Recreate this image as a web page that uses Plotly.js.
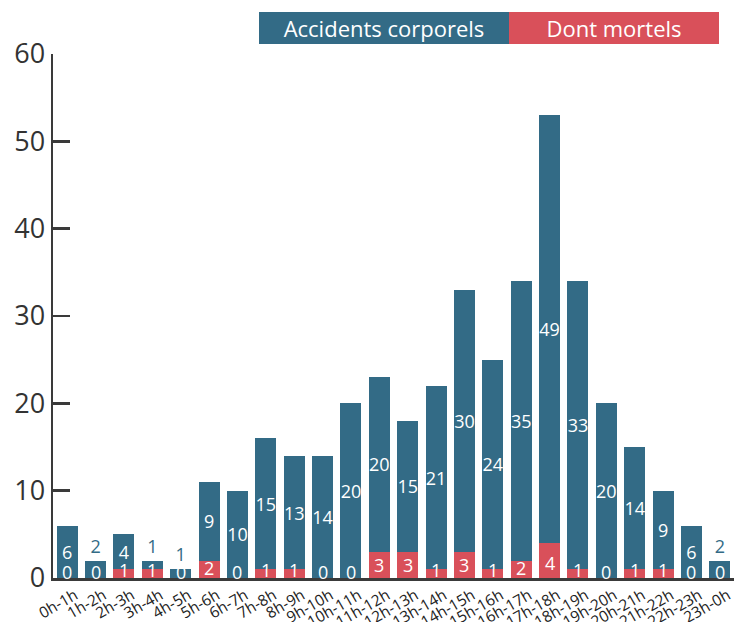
<!DOCTYPE html>
<html>
<head>
<meta charset="utf-8">
<script src="https://cdn.plot.ly/plotly-3.0.1.min.js"></script>
<style>html,body{margin:0;padding:0;background:#fff;}#chart{width:734px;height:622px;}</style>
</head>
<body>
<div id="chart"></div>
<script>
const hours = ["0h-1h","1h-2h","2h-3h","3h-4h","4h-5h","5h-6h","6h-7h","7h-8h","8h-9h","9h-10h","10h-11h","11h-12h","12h-13h","13h-14h","14h-15h","15h-16h","16h-17h","17h-18h","18h-19h","19h-20h","20h-21h","21h-22h","22h-23h","23h-0h"];
const accidents = [6,2,4,1,1,9,10,15,13,14,20,20,15,21,30,24,32,49,33,20,14,9,6,2];
const accidentLabels = ["6","2","4","1","1","9","10","15","13","14","20","20","15","21","30","24","35","49","33","20","14","9","6","2"];
const mortels = [0,0,1,1,0,2,0,1,1,0,0,3,3,1,3,1,2,4,1,0,1,1,0,0];
const legendNames = ["Accidents corporels","Dont mortels"];

const BLUE = "#336b86";
const RED = "#d9505a";
const FONT = "'Open Sans', 'Noto Sans', sans-serif";

const traces = [
  {
    type: "bar", x: hours, y: mortels, name: legendNames[1],
    marker: {color: RED}, hoverinfo: "none"
  },
  {
    type: "bar", x: hours, y: accidents, name: legendNames[0],
    marker: {color: BLUE}, hoverinfo: "none",
    text: accidentLabels,
    textposition: accidents.map(v => v < 3 ? "outside" : "inside"),
    insidetextanchor: "middle",
    constraintext: "none",
    textangle: 0,
    cliponaxis: false,
    insidetextfont: {family: FONT, size: 18, color: "#ffffff"},
    outsidetextfont: {family: FONT, size: 18, color: BLUE}
  }
];

const mortelAnnotations = hours.map((h, i) => ({
  xref: "x", yref: "y", x: h, y: mortels[i] / 4,
  text: String(mortels[i]), showarrow: false,
  xanchor: "center", yanchor: "middle", yshift: 6,
  font: {family: FONT, size: 18, color: "#ffffff"}
}));

const legendAnnotations = [
  {xref: "paper", yref: "paper", x: 0.4861, y: 1.0505, xanchor: "center", yanchor: "middle",
   text: legendNames[0], showarrow: false, bgcolor: BLUE, width: 250, height: 32,
   borderpad: 0, borderwidth: 0, font: {family: FONT, size: 22, color: "#ffffff"}},
  {xref: "paper", yref: "paper", x: 0.8238, y: 1.0505, xanchor: "center", yanchor: "middle",
   text: legendNames[1], showarrow: false, bgcolor: RED, width: 210, height: 32,
   borderpad: 0, borderwidth: 0, font: {family: FONT, size: 22, color: "#ffffff"}}
];

const layout = {
  width: 734, height: 622,
  margin: {l: 53, r: 0, t: 53.5, b: 43.5},
  barmode: "stack",
  bargap: 0.26,
  showlegend: false,
  paper_bgcolor: "#ffffff",
  plot_bgcolor: "#ffffff",
  font: {family: FONT, color: "#333333"},
  xaxis: {
    type: "category", automargin: false,
    showline: true, linecolor: "#3a3a3a", linewidth: 2.5,
    ticks: "", showgrid: false, zeroline: false,
    tickangle: -30,
    ticklabelshift: 8,
    tickfont: {family: FONT, size: 15.5, color: "#222222"}
  },
  yaxis: {
    range: [0, 60], dtick: 10, automargin: false,
    showline: true, linecolor: "#3a3a3a", linewidth: 2.5,
    ticks: "inside", ticklen: 17, tickwidth: 2.5, tickcolor: "#3a3a3a",
    showgrid: false, zeroline: false,
    ticklabelstandoff: 0,
    tickfont: {family: FONT, size: 27, color: "#333333"}
  },
  annotations: mortelAnnotations.concat(legendAnnotations)
};

Plotly.newPlot("chart", traces, layout, {displayModeBar: false, staticPlot: true});
</script>
</body>
</html>
